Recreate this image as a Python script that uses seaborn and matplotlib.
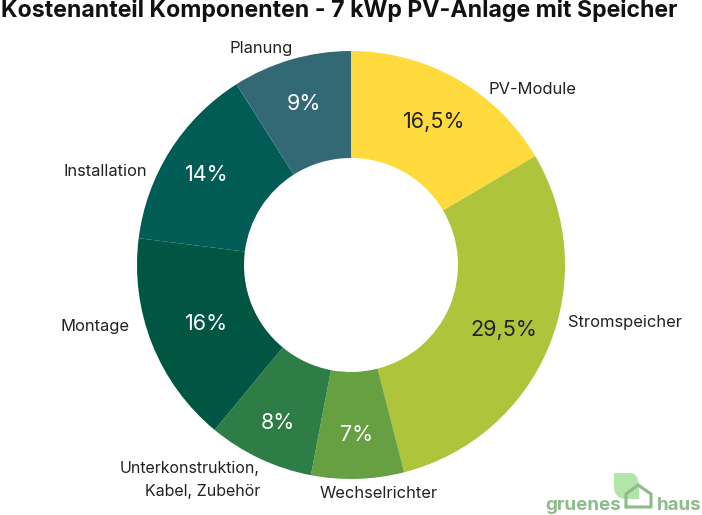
import matplotlib
matplotlib.use('Agg')
import matplotlib.pyplot as plt
import numpy as np
from matplotlib.patches import PathPatch
from matplotlib.path import Path
import seaborn as sns

categories = ['PV-Module', 'Stromspeicher', 'Wechselrichter',
              'Unterkonstruktion,\nKabel, Zubehör', 'Montage', 'Installation', 'Planung']
shares = [16.5, 29.5, 7, 8, 16, 14, 9]
colors = ['#FFDA3D', '#AEC43B', '#67A043', '#2E7D46', '#005642', '#005C54', '#336974']
pct_colors = ['#222222', '#222222', 'white', 'white', 'white', 'white', 'white']
title = 'Kostenanteil Komponenten - 7 kWp PV-Anlage mit Speicher'

sns.set_theme(style='white')
plt.rcParams['font.family'] = ['Inter', 'DejaVu Sans']

W, H = 702, 515
fig = plt.figure(figsize=(W / 100, H / 100), dpi=100)
ax = fig.add_axes([0, 0, 1, 1])

def fmt(p):
    s = f'{p:.1f}'.replace('.', ',')
    return s[:-2] + '%' if s.endswith(',0') else s + '%'

cx, cy, r = 351, H - 265, 214
wedges, texts, pcts = ax.pie(shares, labels=categories, colors=sns.color_palette(colors),
                             startangle=90, counterclock=False, center=(cx, cy), radius=r,
                             autopct=fmt, pctdistance=0.78,
                             wedgeprops=dict(width=107, linewidth=0),
                             textprops=dict(fontsize=11.9, color='#222222'))
ax.set_xlim(0, W)
ax.set_ylim(0, H)
ax.set_aspect('equal')
ax.axis('off')

# label spots (x, y from top, ha)
spots = [(489, 90, 'left'), (568, 322, 'left'), (379, 494, 'center'),
         (260, 480, 'right'), (130, 326, 'right'), (147, 172, 'right'), (293, 48, 'right')]
for t, (x, y, ha) in zip(texts, spots):
    t.set_position((x, H - y))
    t.set_ha(ha)
    t.set_va('center')
    t.set_multialignment('right')
texts[3].set_fontsize(11.5)
texts[3].set_linespacing(1.6)

# the percent labels do not sit on one radius in the original
pct_dist = [167, 165, 168, 172, 155, 171, 170]
for t, c, w, d in zip(pcts, pct_colors, wedges, pct_dist):
    a = np.deg2rad((w.theta1 + w.theta2) / 2)
    t.set_position((cx + d * np.cos(a), cy + d * np.sin(a) - 2))
    t.set_color(c)
    t.set_fontsize(15.5)

ax.text(1, H - 10, title, fontsize=16.6, fontweight='bold', color='#111111', ha='left', va='center')

# logo
green = '#8DBB8B'
leaf = Path([(614, H - 473), (630, H - 473), (639, H - 473), (639, H - 488), (639, H - 499), (626, H - 499),
             (614, H - 499), (614, H - 486), (614, H - 473)],
            [Path.MOVETO, Path.LINETO, Path.CURVE3, Path.CURVE3, Path.LINETO, Path.LINETO,
             Path.CURVE3, Path.CURVE3, Path.LINETO])
ax.add_patch(PathPatch(leaf, fc='#B4E5A8', lw=0))
ax.plot([626, 626, 638, 651, 651, 626], [H - 507, H - 494, H - 485, H - 494, H - 507, H - 507],
        color=green, lw=2.2, solid_joinstyle='miter')
ax.text(545, H - 505, 'gruenes', fontsize=13.5, fontweight='bold', color=green, ha='left', va='center')
ax.text(657, H - 505, 'haus', fontsize=13.5, fontweight='bold', color=green, ha='left', va='center')

fig.savefig('out.png', dpi=100)
